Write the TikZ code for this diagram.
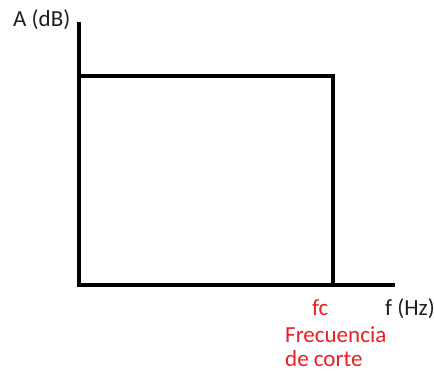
\documentclass[tikz,border=0pt]{standalone}
\usepackage{fontspec}
\setmainfont{Carlito}
\definecolor{cutred}{RGB}{235,30,35}
\definecolor{axtext}{RGB}{30,30,30}
\begin{document}
\begin{tikzpicture}[x=1pt,y=-1pt,
  axis/.style={line width=4pt,black},
  lbl/.style={inner sep=0pt,anchor=base west,font=\fontsize{23}{28}\selectfont},
  redlbl/.style={lbl,text=cutred}]
\useasboundingbox (0,0) rectangle (434,372);
\coordinate (ytop) at (78.5,22);
\coordinate (orig) at (78.5,285);
\coordinate (xend) at (395,285);
\coordinate (tl) at (78.5,76);
\coordinate (tr) at (333,76);
\coordinate (br) at (333,285);
\draw[axis] (ytop) -- (orig) -- (xend);
\draw[axis] (tl) -- (tr) -- (br);
\node[lbl,text=axtext] (ylab) at (13,27) {A (dB)};
\node[lbl,text=axtext] (xlab) at (385,315) {f (Hz)};
\node[redlbl] (fc) at (312,315) {fc};
\node[redlbl] (fcut1) at (285,342) {Frecuencia};
\node[redlbl] (fcut2) at (285,366) {de corte};
\end{tikzpicture}
\end{document}
